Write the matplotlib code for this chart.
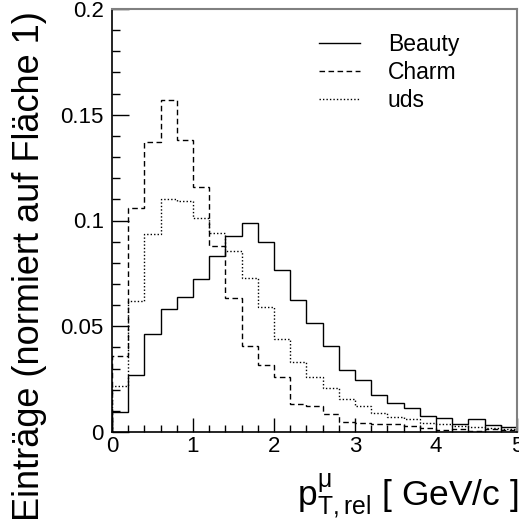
import numpy as np
import matplotlib
matplotlib.use("Agg")
import matplotlib.pyplot as plt
from matplotlib.ticker import MultipleLocator, FixedLocator, FixedFormatter

plt.rcParams['font.family'] = ['Liberation Sans', 'DejaVu Sans']
plt.rcParams['mathtext.fontset'] = 'custom'
plt.rcParams['mathtext.rm'] = 'Liberation Sans'
plt.rcParams['mathtext.it'] = 'Liberation Sans:italic'

edges = np.round(np.arange(0, 5.0001, 0.2), 2)

beauty = [0.0096, 0.0269, 0.0462, 0.0582, 0.0638, 0.0725, 0.0833, 0.0925, 0.0990,
          0.0896, 0.0764, 0.0626, 0.0517, 0.0406, 0.0292, 0.0248, 0.0173, 0.0135,
          0.0115, 0.0075, 0.0068, 0.0036, 0.0063, 0.0033, 0.0024]
charm = [0.0358, 0.1058, 0.1370, 0.1570, 0.1380, 0.1157, 0.0879, 0.0634, 0.0407,
         0.0319, 0.0261, 0.0131, 0.0123, 0.0083, 0.0049, 0.0044, 0.0036, 0.0038,
         0.0028, 0.0019, 0.0008, 0.0013, 0.0007, 0.0013, 0.0010]
uds = [0.0218, 0.0619, 0.0937, 0.1100, 0.1090, 0.1010, 0.0940, 0.0854, 0.0730,
       0.0591, 0.0442, 0.0332, 0.0258, 0.0206, 0.0156, 0.0123, 0.0091, 0.0072,
       0.0060, 0.0041, 0.0036, 0.0028, 0.0025, 0.0020, 0.0014]

labels = ["Beauty", "Charm", "uds"]
yticks = [0, 0.05, 0.1, 0.15, 0.2]
yticklabels = ["0", "0.05", "0.1", "0.15", "0.2"]
xticks = [0, 1, 2, 3, 4, 5]

fig = plt.figure(figsize=(5.19, 5.25), dpi=100)
ax = fig.add_axes([112/519, (525-432)/525, (517-112)/519, (432-9)/525])

ax.stairs(beauty, edges, color='black', lw=1.0, linestyle='-', label=labels[0])
ax.stairs(charm, edges, color='black', lw=1.0, linestyle=(0, (4, 2.5)), label=labels[1])
ax.stairs(uds, edges, color='black', lw=1.0, linestyle=(0, (1, 1.5)), label=labels[2])

ax.set_xlim(0, 5)
ax.set_ylim(0, 0.2)

ax.xaxis.set_major_locator(FixedLocator(xticks))
ax.xaxis.set_minor_locator(MultipleLocator(0.2))
ax.yaxis.set_major_locator(FixedLocator(yticks))
ax.yaxis.set_major_formatter(FixedFormatter(yticklabels))
ax.yaxis.set_minor_locator(MultipleLocator(0.01))

ax.tick_params(which='both', direction='in', top=False, right=False, color='black', width=1)
ax.tick_params(which='major', length=12, labelsize=16)
ax.tick_params(which='minor', length=6)
ax.tick_params(axis='x', which='major', length=10, pad=3)
ax.tick_params(axis='x', which='minor', length=5)
ax.tick_params(axis='y', which='major', pad=6)

for s in ['left', 'bottom']:
    ax.spines[s].set_color('black')
    ax.spines[s].set_linewidth(1.2)
for s in ['top', 'right']:
    ax.spines[s].set_color('#808080')
    ax.spines[s].set_linewidth(1.5)

fig.text(518/519, (525-505)/525, r'$\mathrm{p}^{\mathrm{\mu}}_{\mathrm{T,rel}}$ [ GeV/c ]',
         ha='right', va='baseline', fontsize=25.5)
fig.text(30/519, (525-266)/525, 'Einträge (normiert auf Fläche 1)', rotation=90,
         ha='center', va='center', fontsize=26)

leg = ax.legend(loc='upper left', bbox_to_anchor=(198/405, 1 - 15/423), frameon=False,
                fontsize=16.5, handlelength=1.8, handletextpad=1.2, labelspacing=0.22,
                borderaxespad=0)

fig.savefig('out.png', dpi=100)
